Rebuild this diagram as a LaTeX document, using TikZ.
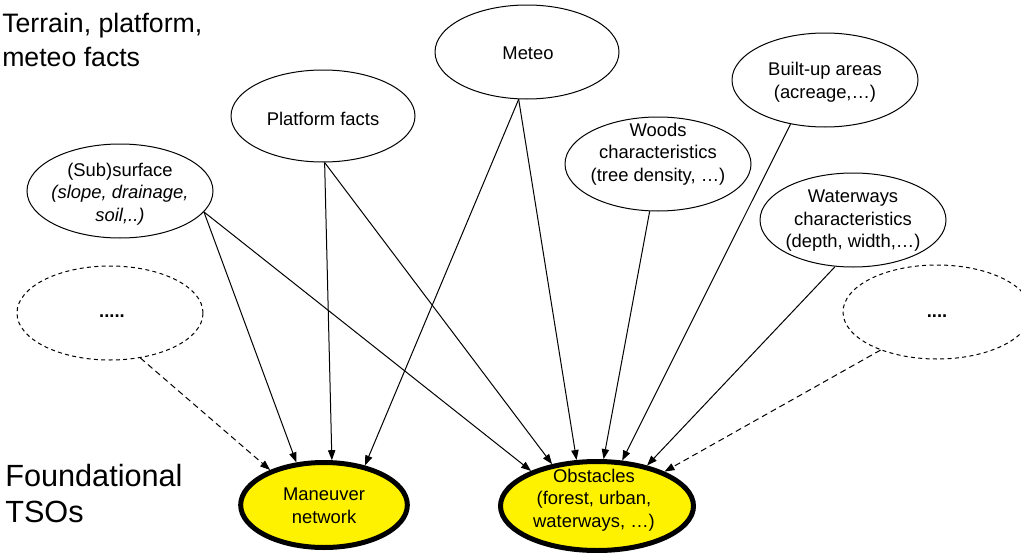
\documentclass[tikz,border=0pt]{standalone}
\usepackage{fontspec}
\setmainfont{Liberation Sans}
\usetikzlibrary{arrows.meta,shapes.geometric}

\begin{document}
\begin{tikzpicture}[x=0.75pt,y=-0.75pt,
    fact/.style={ellipse,draw,line width=0.75pt,minimum width=139.5pt,minimum height=70.5pt,inner sep=0pt},
    more/.style={fact,dash pattern=on 3pt off 2.5pt},
    tso/.style={ellipse,draw,line width=3.75pt,fill=yellow,inner sep=0pt},
    txt/.style={align=center,font=\fontsize{13.8}{16.9}\selectfont,inner sep=0pt},
    big/.style={align=left,inner sep=0pt,anchor=north west},
    feed/.style={-{Triangle[length=7.5pt,width=5.5pt]},line width=0.75pt},
    guess/.style={feed,dash pattern=on 4.5pt off 3pt}]
    \clip (0,0) rectangle (1021,553);
    % headings
    \node[big,font=\fontsize{20}{25.5}\selectfont] (top) at (2,13) {Terrain, platform,\\meteo facts};
    \node[big,font=\fontsize{23}{27}\selectfont] (bottom) at (5,464) {Foundational\\TSOs};
    % facts
    \node[fact] (sub) at (120,191) {};
    \node[txt] (subT) at (120,194) {(Sub)surface\\\textit{(slope, drainage,}\\\textit{soil,..)}};
    \node[fact,minimum width=138pt,minimum height=69pt] (plat) at (323,116) {};
    \node[txt] (platT) at (323,119) {Platform facts};
    \node[fact,minimum width=138pt] (meteo) at (527,52) {};
    \node[txt] (meteoT) at (528,53) {Meteo};
    \node[fact] (woods) at (658,164) {};
    \node[txt] (woodsT) at (658,154) {Woods\\characteristics\\(tree density, …)};
    \node[fact] (built) at (825,80) {};
    \node[txt] (builtT) at (825,82) {Built-up areas\\(acreage,…)};
    \node[fact] (water) at (853,220) {};
    \node[txt] (waterT) at (853,221) {Waterways\\characteristics\\(depth, width,…)};
    \node[more] (dotsL) at (110,313) {};
    \node[txt] (dotsLT) at (112,316) {\textbf{.....}};
    \node[more,minimum width=141pt] (dotsR) at (937,312) {};
    \node[txt] (dotsRT) at (937,316) {\textbf{....}};
    % TSOs
    \node[tso,minimum width=125pt,minimum height=63.75pt] (man) at (324,505) {};
    \node[txt] (manT) at (324,506) {Maneuver\\network};
    \node[tso,minimum width=144.75pt,minimum height=66.75pt] (obs) at (597,506) {};
    \node[txt] (obsT) at (594,500) {Obstacles\\(forest, urban,\\waterways, …)};
    % arrows
    \draw[guess] (dotsL.-56) -- (man.147);
    \draw[feed] (sub.-14) -- (man.123);
    \draw[feed] (plat.-88) -- (man.80);
    \draw[feed] (meteo.-100) -- (man.44);
    \draw[feed] (sub.-14) -- (obs.152);
    \draw[feed] (plat.-88) -- (obs.137);
    \draw[feed] (meteo.-100) -- (obs.114);
    \draw[feed] (woods.-100) -- (obs.82);
    \draw[feed] (built.-128) -- (obs.61);
    \draw[feed] (water.-111) -- (obs.39);
    \draw[guess] (dotsR.-146) -- (obs.27);
\end{tikzpicture}
\end{document}
